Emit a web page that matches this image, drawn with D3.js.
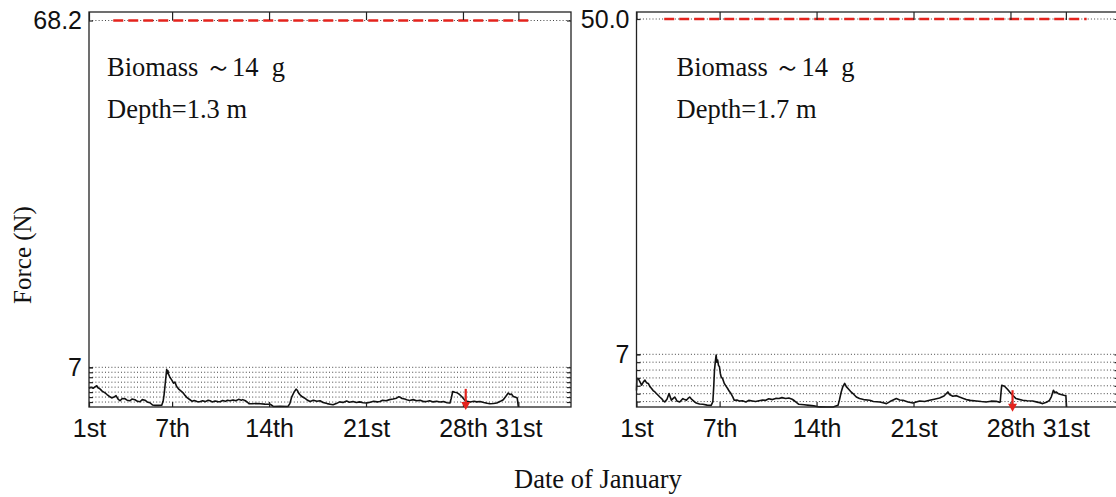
<!DOCTYPE html>
<html>
<head>
<meta charset="utf-8">
<script src="https://cdn.jsdelivr.net/npm/d3@7"></script>
<style>
  body { margin: 0; background: #fff; }
  svg { display: block; }
</style>
</head>
<body>
<svg id="chart" width="1116" height="497"></svg>
<script>
// Days elapsed since 1 January 00:00 and the labels shown at them
const dayTicks = [0, 6, 13, 20, 27, 31];
const dayTickLabels = ["1st", "7th", "14th", "21st", "28th", "31st"];

// Mooring force record, site at 1.3 m depth (days, newtons)
const shallowDays = [0.0,0.15,0.3,0.45,0.56,0.65,0.79,0.95,1.16,1.3,1.45,1.64,1.8,1.95,2.1,2.24,2.4,2.6,2.75,2.96,3.1,3.32,3.5,3.68,3.85,4.04,4.2,4.4,4.6,4.77,5.0,5.25,5.35,5.42,5.52,5.61,5.66,5.7,5.74,5.85,5.97,6.1,6.2,6.33,6.5,6.65,6.79,6.95,7.1,7.29,7.45,7.6,7.8,8.0,8.2,8.4,8.6,8.74,8.9,9.1,9.3,9.46,9.65,9.85,10.0,10.18,10.4,10.6,10.8,11.0,11.1,11.25,11.4,11.55,11.8,12.1,12.35,12.7,13.07,13.2,13.3,13.8,14.37,14.5,14.64,14.8,14.95,15.05,15.15,15.24,15.4,15.55,15.72,15.96,16.2,16.45,16.68,16.9,17.2,17.4,17.62,17.85,18.1,18.34,18.6,18.8,19.06,19.3,19.55,19.8,20.05,20.3,20.55,20.8,21.01,21.2,21.45,21.7,21.95,22.2,22.35,22.45,22.6,22.8,22.94,23.15,23.4,23.66,23.9,24.15,24.38,24.6,24.85,25.1,25.34,25.6,25.85,26.06,26.15,26.26,26.4,26.55,26.7,26.91,27.0,27.15,27.3,27.51,27.8,28.0,28.23,28.5,28.75,28.95,29.2,29.44,29.7,29.91,30.1,30.27,30.4,30.5,30.63,30.8,30.92,31.0];
const shallowForce = [3.3,3.5,3.3,3.6,3.75,3.4,3.2,2.8,2.5,2.2,1.9,1.6,1.75,2.0,1.4,1.1,1.5,1.45,1.2,1.1,1.4,1.28,1.0,0.93,1.3,1.2,0.9,0.75,0.35,0.28,0.28,0.3,1.0,2.15,4.5,6.65,5.9,6.4,5.8,5.2,4.78,4.2,4.4,3.6,3.1,2.8,2.5,2.0,1.6,1.28,1.0,1.15,0.95,0.93,1.1,0.95,1.2,1.1,0.9,1.05,0.95,0.93,1.15,1.0,1.2,1.1,1.25,1.1,1.35,1.2,1.3,1.15,0.93,0.6,0.58,0.62,0.58,0.5,0.49,0.3,0.1,0.12,0.1,0.6,1.8,2.6,3.15,2.9,2.4,2.15,1.8,1.6,1.28,0.98,1.2,1.0,1.1,0.8,0.6,0.5,0.4,0.6,0.9,0.8,1.05,0.85,0.98,0.8,0.9,0.75,0.7,0.85,1.0,0.9,0.98,1.2,1.1,1.3,1.4,1.55,1.8,1.75,1.5,1.4,1.28,1.15,1.3,1.1,1.2,0.95,0.98,1.1,0.9,1.0,0.88,0.95,0.75,0.7,1.5,2.73,2.6,2.55,2.3,1.85,1.6,1.15,1.0,0.88,1.0,0.9,0.98,0.8,0.65,0.58,0.62,0.7,1.0,1.28,1.9,2.45,2.2,2.3,1.85,1.7,1.58,0.0];

// Mooring force record, site at 1.7 m depth (days, newtons)
const deepDays = [0.0,0.03,0.13,0.25,0.37,0.5,0.61,0.72,0.85,0.97,1.09,1.2,1.33,1.45,1.56,1.7,1.81,1.93,2.04,2.2,2.35,2.45,2.52,2.65,2.76,2.85,2.92,3.12,3.25,3.35,3.48,3.6,3.72,3.84,3.95,4.07,4.2,4.32,4.55,4.79,5.1,5.39,5.51,5.58,5.63,5.7,5.75,5.8,5.86,5.92,5.99,6.05,6.11,6.22,6.34,6.45,6.58,6.7,6.82,6.95,7.06,7.25,7.42,7.65,7.9,8.1,8.37,8.6,8.85,9.1,9.33,9.55,9.81,10.05,10.29,10.5,10.77,11.0,11.24,11.4,11.5,11.72,12.1,12.5,12.8,13.2,13.7,14.2,14.55,14.65,14.78,14.9,15.03,15.15,15.27,15.45,15.63,15.87,16.1,16.4,16.84,17.1,17.56,17.8,18.05,18.3,18.76,19.0,19.24,19.6,19.96,20.2,20.44,20.8,21.16,21.5,21.88,22.2,22.48,22.6,22.84,23.1,23.32,23.6,23.81,24.1,24.53,24.9,25.24,25.6,25.97,26.2,26.26,26.32,26.37,26.57,26.8,26.95,27.16,27.4,27.88,28.2,28.6,29.0,29.33,29.6,29.81,29.95,30.1,30.2,30.3,30.45,30.65,30.85,31.0,31.05];
const deepForce = [2.4,3.9,3.93,3.5,3.08,3.5,3.72,3.4,3.3,2.9,2.66,2.4,2.22,2.0,1.8,1.55,1.38,1.1,0.95,1.3,2.02,1.5,1.16,1.4,1.58,1.3,1.07,0.95,1.2,1.38,1.25,1.16,1.4,1.58,1.35,1.16,0.95,0.82,0.7,0.65,0.55,0.52,0.95,3.0,5.0,6.2,6.9,6.0,6.27,5.6,5.42,4.6,4.14,3.9,3.3,3.0,2.66,2.3,2.02,1.6,1.16,1.2,1.07,1.1,0.95,1.15,1.07,1.0,1.1,1.2,1.16,1.35,1.25,1.4,1.38,1.5,1.38,1.45,1.29,1.1,0.95,0.65,0.6,0.52,0.45,0.32,0.31,0.31,0.52,1.2,2.22,2.9,3.3,2.9,2.66,2.3,2.02,1.58,1.38,1.25,1.16,1.0,0.95,0.85,0.74,1.0,1.38,1.2,1.16,0.95,0.82,0.95,1.07,1.0,1.16,1.3,1.46,1.7,2.22,1.9,1.67,1.75,1.58,1.4,1.25,1.15,1.07,1.0,0.95,1.05,1.03,0.9,0.95,2.2,3.08,2.95,2.53,2.2,1.8,1.38,1.16,1.1,1.07,0.9,0.74,0.9,1.16,1.6,2.44,2.1,2.22,2.0,1.9,1.8,1.75,0.31];

// Per-site settings: axis break at 7 N, full-scale value, dotted reference levels
const shallowYTicks = [7, 68.2];
const deepYTicks = [7, 50.0];
const shallowGrid = [0.875, 1.75, 2.625, 3.5, 4.375, 5.25, 6.125, 7];
const deepGrid = [1, 2, 3, 4, 5, 6, 7];
const shallowRatedSpan = [1.75, 32.05];   // rated-load line, days
const deepRatedSpan = [2.0, 32.5];
const shallowArrow = {day: 27.2, from: 3.2, to: -0.55};
const deepArrow = {day: 27.15, from: 2.44, to: -0.29};
const siteLabels = [
  ["Biomass \uFF5E14  g", "Depth=1.3 m"],
  ["Biomass \uFF5E14  g", "Depth=1.7 m"]
];

const svg = d3.select("#chart");
svg.append("rect").attr("width", 1116).attr("height", 497).attr("fill", "#fff");

const panels = [
  {left: 89, width: 482, top: 12, bottom: 407, yMin: 0, yBreakPx: 367.3, yTopPx: 20.5,
   days: shallowDays, force: shallowForce, yTicks: shallowYTicks, grid: shallowGrid,
   rated: shallowRatedSpan, arrow: shallowArrow, labels: siteLabels[0], labelDx: 18},
  {left: 636.5, width: 482, top: 12, bottom: 407, yMin: 0.31, yBreakPx: 354.3, yTopPx: 19,
   days: deepDays, force: deepForce, yTicks: deepYTicks, grid: deepGrid,
   rated: deepRatedSpan, arrow: deepArrow, labels: siteLabels[1], labelDx: 40}
];

const tickFont = "Liberation Sans, Arial, sans-serif";
const serif = "Liberation Serif, Times New Roman, serif";
const red = "#e4231d";

panels.forEach(p => {
  const g = svg.append("g");
  const right = p.left + p.width;
  const yMax = p.yTicks[p.yTicks.length - 1];
  const x = d3.scaleLinear().domain([0, 34.8]).range([p.left, right]);
  // broken force axis: 0–7 N stretched, 7 N – full scale compressed
  const y = d3.scaleLinear().domain([p.yMin, 7, yMax]).range([p.bottom, p.yBreakPx, p.yTopPx]);

  // dotted reference levels
  g.append("g").selectAll("line").data([...p.grid, yMax]).join("line")
    .attr("x1", p.left).attr("x2", right)
    .attr("y1", d => y(d)).attr("y2", d => y(d))
    .attr("stroke", "#444").attr("stroke-width", 1)
    .attr("stroke-dasharray", "1,2.2");

  // rated-load line
  g.append("line")
    .attr("x1", x(p.rated[0])).attr("x2", x(p.rated[1]))
    .attr("y1", y(yMax)).attr("y2", y(yMax))
    .attr("stroke", red).attr("stroke-width", 2.6)
    .attr("stroke-dasharray", "10,5");

  // force record
  const line = d3.line().x((d, i) => x(p.days[i])).y(d => y(d));
  g.append("path").datum(p.force)
    .attr("d", line)
    .attr("fill", "none").attr("stroke", "#111").attr("stroke-width", 1.6)
    .attr("stroke-linejoin", "round");

  // frame
  g.append("rect")
    .attr("x", p.left).attr("y", p.top)
    .attr("width", p.width).attr("height", p.bottom - p.top)
    .attr("fill", "none").attr("stroke", "#222").attr("stroke-width", 1.3);

  // bottom axis with date labels
  const xb = g.append("g").attr("transform", `translate(0,${p.bottom})`)
    .call(d3.axisBottom(x).tickValues(dayTicks)
      .tickFormat((d, i) => dayTickLabels[i])
      .tickSizeInner(-5).tickSizeOuter(0).tickPadding(12));
  // top axis ticks
  const xt = g.append("g").attr("transform", `translate(0,${p.top})`)
    .call(d3.axisTop(x).tickValues(dayTicks).tickFormat("")
      .tickSizeInner(-8).tickSizeOuter(0));
  // left axis labels and inward ticks
  const yl = g.append("g").attr("transform", `translate(${p.left},0)`)
    .call(d3.axisLeft(y).tickValues(p.yTicks)
      .tickFormat(d => d === 7 ? "7" : d3.format(".1f")(d))
      .tickSizeInner(-4).tickSizeOuter(0).tickPadding(7));
  const ylg = g.append("g").attr("transform", `translate(${p.left},0)`)
    .call(d3.axisLeft(y).tickValues(p.grid).tickFormat("")
      .tickSizeInner(-4).tickSizeOuter(0));
  const yr = g.append("g").attr("transform", `translate(${right},0)`)
    .call(d3.axisRight(y).tickValues([...p.grid, yMax]).tickFormat("")
      .tickSizeInner(-4).tickSizeOuter(0));

  [xb, xt, yl, ylg, yr].forEach(a => {
    a.select(".domain").remove();
    a.selectAll(".tick line").attr("stroke", "#222").attr("stroke-width", 1.2);
    a.selectAll("text").attr("font-family", tickFont).attr("font-size", 25).attr("fill", "#111");
  });

  // site annotation
  g.selectAll("text.site").data(p.labels).join("text")
    .attr("class", "site")
    .attr("x", p.left + p.labelDx)
    .attr("y", (d, i) => 76 + i * 42)
    .attr("font-family", serif).attr("font-size", 26.5).attr("fill", "#111")
    .style("white-space", "pre")
    .text(d => d);

  // red arrow marking the event
  const ax = x(p.arrow.day);
  const y0 = y(p.arrow.from), y1 = y(p.arrow.to);
  g.append("line").attr("x1", ax).attr("x2", ax).attr("y1", y0).attr("y2", y1 - 6)
    .attr("stroke", red).attr("stroke-width", 2.2);
  g.append("path")
    .attr("d", `M${ax - 4.5},${y1 - 8} L${ax + 4.5},${y1 - 8} L${ax},${y1} Z`)
    .attr("fill", red);
});

// shared axis titles
svg.append("text")
  .attr("transform", "translate(31,255) rotate(-90)")
  .attr("text-anchor", "middle")
  .attr("font-family", serif).attr("font-size", 25).attr("fill", "#111")
  .text("Force (N)");
svg.append("text")
  .attr("x", 598).attr("y", 488)
  .attr("text-anchor", "middle")
  .attr("font-family", serif).attr("font-size", 26.5).attr("fill", "#111")
  .text("Date of January");
</script>
</body>
</html>
